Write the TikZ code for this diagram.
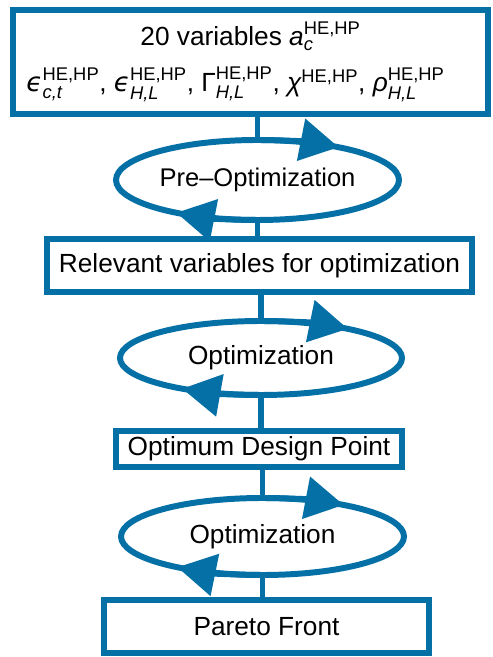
\documentclass[tikz,border=0pt]{standalone}
\usepackage{amsmath}
\usepackage{fontspec}
\setmainfont{Liberation Sans}
\newfontfamily\epsfont{DejaVu Sans}
\usepackage{tikz}
\usetikzlibrary{positioning, shapes.geometric, arrows.meta}
\definecolor{L1}{HTML}{0570A6}
\newcommand{\hevar}[2]{$\text{#1}^{\text{HE,HP}}_{\text{\itshape #2}}$}

\begin{document}
\begin{tikzpicture}[
	box/.style = {draw=L1, rectangle, align=center, line width=5.1pt, inner sep=0pt, font=\fontsize{22.4}{27}\selectfont},
	loopell/.style = {draw=L1, ellipse, line width=5.1pt, inner sep=0pt, label={[font=\fontsize{22.4}{27}\selectfont]center:#1}},
	flow/.style = {draw=L1, line width=5.1pt, -{Triangle[length=1.15cm, width=1.25cm]}},
  every edge/.style={draw=L1, line width=5.1pt}
]
  \useasboundingbox (0, 0) rectangle (14.79, 19.71);

  % Define vertices
  \node[box, minimum width=14.25cm, minimum height=3.12cm, font=\fontsize{22.4}{42}\selectfont] at (7.515, 17.85) (vars)
    {20 variables \hevar{\itshape a}{c}\\[-0.1cm]
     \hevar{\epsfont\itshape ϵ}{c,t}, \hevar{\epsfont\itshape ϵ}{H,L}, \hevar{Γ}{H,L}, $\text{\itshape χ}^{\text{HE,HP}}$, \hevar{\itshape ρ}{H,L}\hspace*{0.9cm}};
  \node[loopell={\fontsize{21.8}{25}\selectfont Pre–Optimization}, minimum width=8.49cm, minimum height=2.4cm] at (7.725, 14.31) (preopt) {};
  \node[box, minimum width=12.75cm, minimum height=1.59cm] at (7.785, 11.745) (relvars) {Relevant variables for optimization};
  \node[loopell=Optimization, minimum width=8.46cm, minimum height=2.22cm] at (7.83, 8.97) (opt) {};
  \node[box, minimum width=8.58cm, minimum height=1.08cm] at (7.77, 6.24) (design) {Optimum Design Point};
  \node[loopell=Optimization, minimum width=8.49cm, minimum height=2.31cm] at (7.875, 3.615) (paropt) {};
  \node[box, minimum width=9.75cm, minimum height=1.59cm] at (7.995, 0.915) (pareto) {Pareto Front};

  % Edges
  \draw (vars.south -| preopt.north) edge (preopt.north);
  \draw (preopt.south) edge (relvars.north -| preopt.south);
  \draw (relvars.south -| opt.north) edge (opt.north);
  \draw (opt.south) edge (design.north -| opt.south);
  \draw (design.south -| paropt.north) edge (paropt.north);
  \draw (paropt.south) edge (pareto.north -| paropt.south);

  % Loop arrows
  \draw[flow] ([shift={(90:4.245cm and 1.2cm)}]preopt.center) arc[start angle=90, end angle=55, x radius=4.245cm, y radius=1.2cm];
  \draw[flow] ([shift={(270:4.245cm and 1.2cm)}]preopt.center) arc[start angle=270, end angle=235, x radius=4.245cm, y radius=1.2cm];
  \draw[flow] ([shift={(90:4.23cm and 1.11cm)}]opt.center) arc[start angle=90, end angle=52, x radius=4.23cm, y radius=1.11cm];
  \draw[flow] ([shift={(270:4.23cm and 1.11cm)}]opt.center) arc[start angle=270, end angle=236, x radius=4.23cm, y radius=1.11cm];
  \draw[flow] ([shift={(90:4.245cm and 1.155cm)}]paropt.center) arc[start angle=90, end angle=55, x radius=4.245cm, y radius=1.155cm];
  \draw[flow] ([shift={(270:4.245cm and 1.155cm)}]paropt.center) arc[start angle=270, end angle=233, x radius=4.245cm, y radius=1.155cm];
\end{tikzpicture}
\end{document}
